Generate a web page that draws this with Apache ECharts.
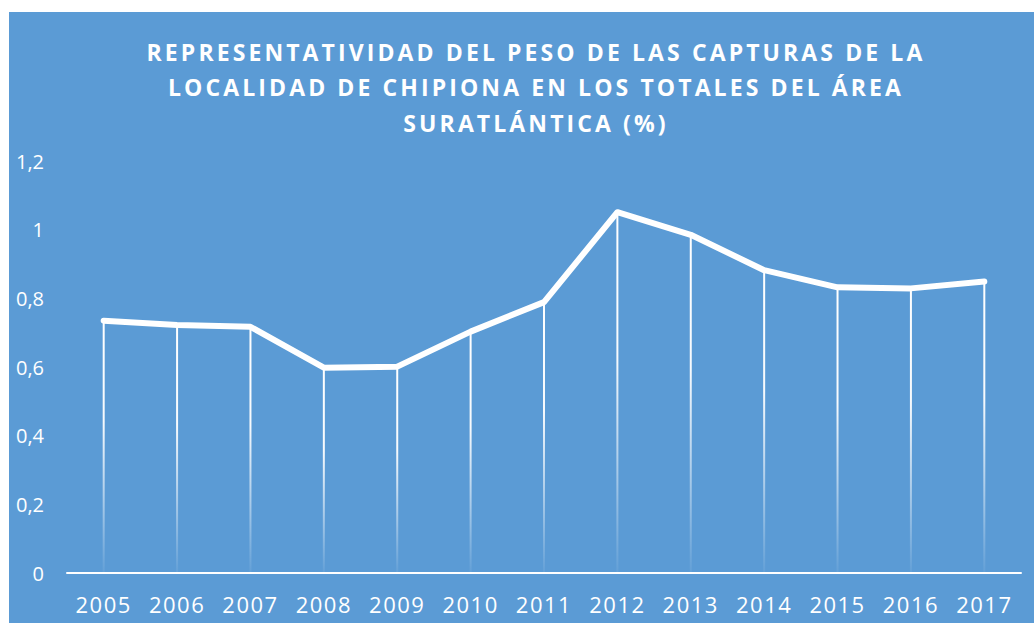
<!DOCTYPE html>
<html>
<head>
<meta charset="utf-8">
<script src="https://cdn.jsdelivr.net/npm/echarts@6/dist/echarts.min.js"></script>
<style>
  html, body { margin: 0; padding: 0; background: #fff; }
  #chart { position: absolute; left: 9px; top: 12px; width: 1025px; height: 611px; }
  /* Excel-like character spacing for title and category labels */
  #chart text[style*="bold"] { letter-spacing: 3.1px; }
  #chart text[style*="22px"] { letter-spacing: 1.5px; }
</style>
</head>
<body>
<div id="chart"></div>
<script>
const titleText = 'REPRESENTATIVIDAD DEL PESO DE LAS CAPTURAS DE LA\nLOCALIDAD DE CHIPIONA EN LOS TOTALES DEL ÁREA\nSURATLÁNTICA (%)'
const years = ['2005', '2006', '2007', '2008', '2009', '2010', '2011', '2012', '2013', '2014', '2015', '2016', '2017']
const share = [0.735, 0.722, 0.717, 0.598, 0.601, 0.703, 0.789, 1.051, 0.985, 0.882, 0.832, 0.829, 0.849]
const yMin = 0
const yMax = 1.2
const yStep = 0.2

const chart = echarts.init(document.getElementById('chart'), null, { renderer: 'svg' })

const option = {
  backgroundColor: '#5b9bd5',
  animation: false,
  title: {
    text: titleText,
    left: 527,
    top: 22,
    padding: 0,
    textAlign: 'center',
    textStyle: {
      color: '#ffffff',
      fontFamily: 'Open Sans',
      fontWeight: 'bold',
      fontSize: 23,
      lineHeight: 35.5
    }
  },
  grid: {
    left: 58,
    right: 13,
    top: 149,
    bottom: 50
  },
  xAxis: {
    type: 'category',
    boundaryGap: true,
    data: years,
    axisLine: { lineStyle: { color: '#ffffff', width: 2 } },
    axisTick: { show: false },
    axisLabel: {
      color: '#ffffff',
      fontFamily: 'Open Sans',
      fontSize: 22,
      margin: 20
    },
    splitLine: { show: false }
  },
  yAxis: {
    type: 'value',
    min: yMin,
    max: yMax,
    interval: yStep,
    axisLine: { show: false },
    axisTick: { show: false },
    splitLine: { show: false },
    axisLabel: {
      color: '#ffffff',
      fontFamily: 'Open Sans',
      fontSize: 20,
      margin: 23,
      formatter: function (v) {
        return String(Math.round(v * 10) / 10).replace('.', ',')
      }
    }
  },
  series: [
    {
      // drop lines from each point to the axis
      type: 'bar',
      data: share,
      barWidth: 2,
      silent: true,
      itemStyle: {
        color: new echarts.graphic.LinearGradient(0, 0, 0, 1, [
          { offset: 0, color: 'rgba(255,255,255,1)' },
          { offset: 0.4, color: 'rgba(255,255,255,0.95)' },
          { offset: 1, color: 'rgba(255,255,255,0.05)' }
        ])
      }
    },
    {
      type: 'line',
      data: share,
      z: 3,
      showSymbol: false,
      lineStyle: { color: '#ffffff', width: 6, cap: 'round', join: 'round' }
    }
  ]
}

chart.setOption(option)
</script>
</body>
</html>
